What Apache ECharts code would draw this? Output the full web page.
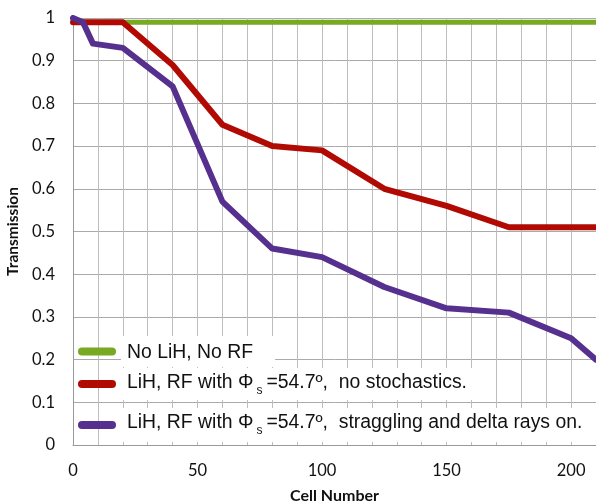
<!DOCTYPE html>
<html lang="en">
<head>
    <meta charset="UTF-8">
    <title>Transmission</title>
    <style>
        html, body { margin: 0; padding: 0; background: #fff; }
    </style>
</head>
<body>
<div id="container" style="width: 596px; height: 504px"></div>
<script type="text/javascript" src="https://cdn.jsdelivr.net/npm/echarts@6/dist/echarts.min.js"></script>
<script type="text/javascript">
    // series names (legend text)
    var names = [
        'No LiH, No RF',
        'LiH, RF with Φs=54.7º,  no stochastics.',
        'LiH, RF with Φs=54.7º,  straggling and delta rays on.'
    ];
    var colors = ['#77a922', '#b00a02', '#55308e'];

    // cell number / transmission
    var noRfX = [0, 210];
    var noRfY = [0.99, 0.99];

    var noStochX = [0, 20, 40, 60, 80, 100, 125, 150, 175, 210];
    var noStochY = [0.99, 0.99, 0.89, 0.75, 0.70, 0.69, 0.60, 0.56, 0.51, 0.51];

    var stragX = [0, 4, 8, 20, 40, 60, 80, 100, 125, 150, 175, 200, 210];
    var stragY = [1.0, 0.99, 0.94, 0.93, 0.84, 0.57, 0.46, 0.44, 0.37, 0.32, 0.31, 0.25, 0.20];

    function pairs(xs, ys) {
        return xs.map(function (x, i) { return [x, ys[i]]; });
    }

    function legendText(name) {
        var i = name.indexOf('Φs');
        if (i < 0) return '{a|' + name + '}';
        return '{a|' + name.slice(0, i) + 'Φ}{s|s}{a|' + name.slice(i + 2) + '}';
    }

    // capsule shaped legend swatch
    var capsule = 'path://M4,0 L34,0 A4,4 0 0 1 34,8 L4,8 A4,4 0 0 1 4,0 Z';

    function makeLegend(idx, top, pad) {
        return {
            data: [names[idx]],
            left: 78,
            top: top,
            padding: 0,
            icon: capsule,
            itemWidth: 38,
            itemHeight: 8,
            formatter: legendText,
            textStyle: {
                backgroundColor: '#fff',
                padding: pad,
                rich: {
                    a: {fontFamily: 'Liberation Sans', fontSize: 19.4, color: '#111', lineHeight: 22},
                    s: {fontFamily: 'Liberation Sans', fontSize: 12, color: '#111', lineHeight: 22,
                        padding: [16, 4, 0, 3]}
                }
            }
        };
    }

    var lineSeries = function (idx, data, width) {
        return {
            name: names[idx],
            type: 'line',
            data: data,
            showSymbol: false,
            symbol: 'none',
            color: colors[idx],
            lineStyle: {width: width, color: colors[idx], join: 'round', cap: 'round'},
            z: 2 + idx
        };
    };

    var option = {
        animation: false,
        backgroundColor: '#fff',
        grid: {left: 73, right: 0, top: 18, bottom: 59, outerBoundsMode: 'none'},
        legend: [
            makeLegend(0, 336, [6, 22, 3, 6]),
            makeLegend(1, 368, [4, 22, 6, 6]),
            makeLegend(2, 408, [4, 12, 8, 6])
        ],
        xAxis: {
            type: 'value',
            min: 0,
            max: 210,
            interval: 10,
            name: 'Cell Number',
            nameLocation: 'middle',
            nameGap: 43,
            nameTextStyle: {fontFamily: 'Lato', fontWeight: 'bold', fontSize: 16, color: '#111'},
            axisLine: {lineStyle: {color: '#999', width: 1}},
            axisTick: {show: false},
            axisLabel: {
                fontFamily: 'Lato', fontSize: 16.5, color: '#111', margin: 17,
                formatter: function (v) { return v % 50 === 0 ? String(v) : ''; }
            },
            splitLine: {show: true, lineStyle: {color: '#bdbdbd', width: 1}}
        },
        yAxis: {
            type: 'value',
            min: 0,
            max: 1,
            interval: 0.1,
            name: 'Transmission',
            nameLocation: 'middle',
            nameGap: 42,
            nameTextStyle: {fontFamily: 'Lato', fontWeight: 'bold', fontSize: 15.5, color: '#111'},
            axisLine: {show: true, lineStyle: {color: '#999', width: 1}},
            axisTick: {show: false},
            axisLabel: {fontFamily: 'Lato', fontSize: 16.5, color: '#111', margin: 18},
            splitLine: {show: true, lineStyle: {color: '#aaaaaa', width: 1}}
        },
        series: [
            lineSeries(0, pairs(noRfX, noRfY), 5),
            lineSeries(1, pairs(noStochX, noStochY), 6),
            lineSeries(2, pairs(stragX, stragY), 6)
        ]
    };

    var myChart = echarts.init(document.getElementById('container'));
    myChart.setOption(option);
</script>
</body>
</html>
